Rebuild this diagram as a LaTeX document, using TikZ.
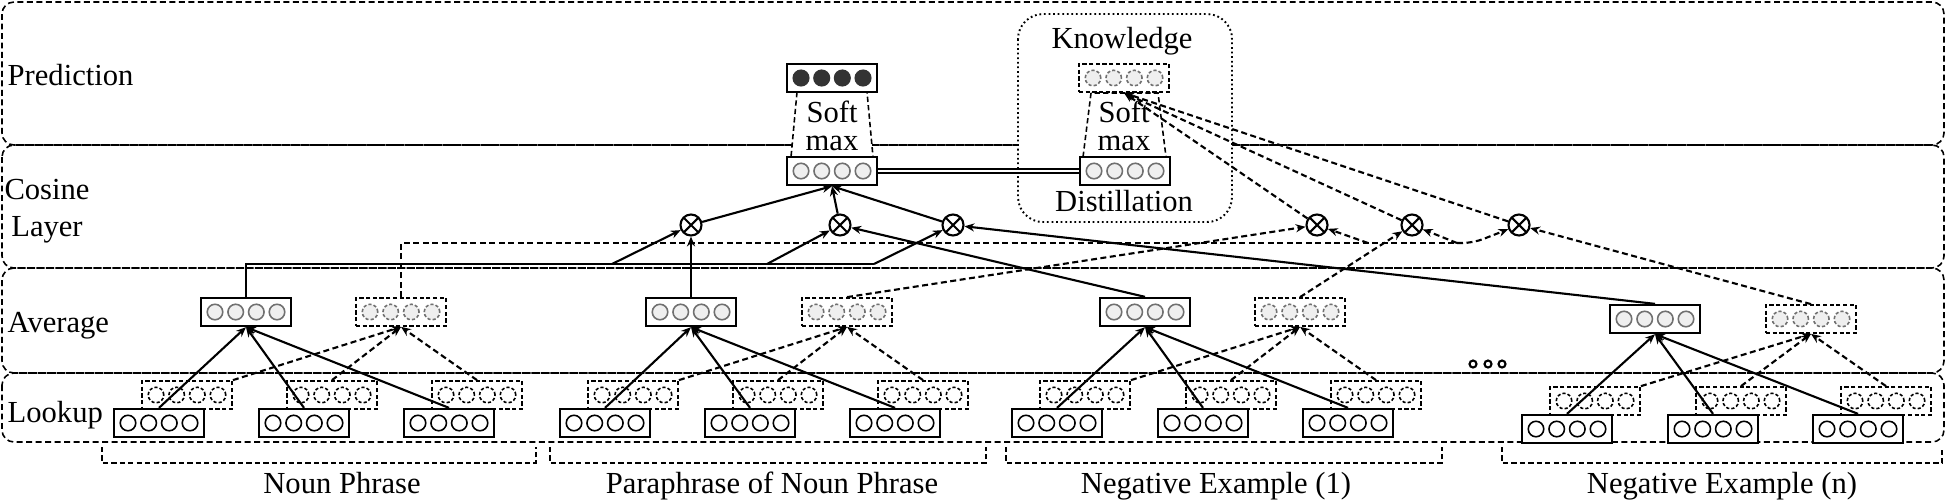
\documentclass[tikz,border=0pt]{standalone}
\usepackage{fontspec}
\setmainfont{Liberation Serif}
\usetikzlibrary{arrows.meta}

\definecolor{dotgray}{HTML}{707070}
\definecolor{dotfill}{HTML}{EFEFEF}
\definecolor{darkdot}{HTML}{333333}

% box with four units inside: name, x, y, box style, unit style
\newcommand{\vecbox}[5]{%
  \node[#4] (#1) at (#2,#3) {};
  \foreach \dx in {-31,-10.3,10.3,31}
    \node[#5] at ([xshift=\dx*0.01cm]#1.center) {};
}

\begin{document}
\begin{tikzpicture}[x=0.01cm, y=-0.01cm, font=\fontsize{8.7}{9}\selectfont,
  layerbox/.style={draw, dash pattern=on 1.7pt off 1pt, line width=0.45pt, rounded corners=0.12cm},
  kbox/.style={draw, fill=white, dash pattern=on 0.5pt off 0.8pt, line width=0.55pt, rounded corners=0.25cm},
  soft/.style={draw, fill=white, dash pattern=on 1.5pt off 0.9pt, line width=0.45pt},
  sbox/.style={draw, fill=white, line width=0.65pt, minimum width=0.9cm, minimum height=0.28cm, inner sep=0pt},
  dbox/.style={sbox, dash pattern=on 1.2pt off 0.7pt, line width=0.5pt},
  wdot/.style={circle, draw, fill=white, line width=0.45pt, minimum size=0.155cm, inner sep=0pt},
  gdot/.style={wdot, draw=dotgray, fill=dotfill},
  ddot/.style={gdot, dash pattern=on 0.9pt off 0.6pt},
  ldot/.style={wdot, dash pattern=on 0.9pt off 0.6pt},
  kdot/.style={wdot, draw=darkdot, fill=darkdot},
  mult/.style={circle, draw, fill=white, line width=0.6pt, minimum size=0.21cm, inner sep=0pt,
    path picture={\draw[line width=0.6pt] (path picture bounding box.north west) -- (path picture bounding box.south east)
      (path picture bounding box.north east) -- (path picture bounding box.south west);}},
  arr/.style={-{Stealth[length=2.8pt,width=2.3pt]}, line width=0.6pt},
  darr/.style={arr, dash pattern=on 1.7pt off 1pt},
  dline/.style={line width=0.6pt, dash pattern=on 1.7pt off 1pt},
  brack/.style={line width=0.45pt, dash pattern=on 1.5pt off 0.9pt},
  lbl/.style={anchor=base west, inner sep=0pt}]
\useasboundingbox (0,0) rectangle (1946,502);

% layers
\draw[layerbox] (2,2) rectangle (1944,145);
\draw[layerbox] (2,145) rectangle (1944,268);
\draw[layerbox] (2,268) rectangle (1944,373);
\draw[layerbox] (2,373) rectangle (1944,442);
\node[lbl] (lpred) at (7,85) {Prediction};
\node[align=center, inner sep=0pt, font=\fontsize{8.7}{10.5}\selectfont] (lcos) at (47,211) {Cosine\\Layer};
\node[lbl] (lavg) at (7,332) {Average};
\node[lbl] (llook) at (7,422) {Lookup};

% knowledge distillation
\draw[kbox] (1018,14) rectangle (1232,222);
\node[anchor=base, inner sep=0pt] (know) at (1122,48) {Knowledge};
\node[anchor=base, inner sep=0pt] (dist) at (1124,211) {Distillation};

\draw[soft] (797,92) -- (791,157) -- (873,157) -- (867,92) -- cycle;
\draw[soft] (1091,93) -- (1083,157) -- (1166,157) -- (1158,93) -- cycle;
\node[align=center, inner sep=0pt, font=\fontsize{8.7}{8}\selectfont] (sm1) at (832,126) {Soft\\max};
\node[align=center, inner sep=0pt, font=\fontsize{8.7}{8}\selectfont] (sm2) at (1124,126) {Soft\\max};

\vecbox{pred}{832}{78}{sbox}{kdot}
\vecbox{cos}{832}{171}{sbox}{gdot}
\vecbox{kd}{1124}{78}{dbox}{ddot}
\vecbox{kc}{1125}{171}{sbox}{gdot}

% noun phrase
\vecbox{u11}{187}{395}{dbox}{ldot}
\vecbox{u12}{332}{395}{dbox}{ldot}
\vecbox{u13}{477}{395}{dbox}{ldot}
\vecbox{w11}{159}{423}{sbox}{wdot}
\vecbox{w12}{304}{423}{sbox}{wdot}
\vecbox{w13}{449}{423}{sbox}{wdot}
\vecbox{a1}{246}{312}{sbox}{gdot}
\vecbox{b1}{401}{312}{dbox}{ddot}

% paraphrase
\vecbox{u21}{633}{395}{dbox}{ldot}
\vecbox{u22}{778}{395}{dbox}{ldot}
\vecbox{u23}{923}{395}{dbox}{ldot}
\vecbox{w21}{605}{423}{sbox}{wdot}
\vecbox{w22}{750}{423}{sbox}{wdot}
\vecbox{w23}{895}{423}{sbox}{wdot}
\vecbox{a2}{691}{312}{sbox}{gdot}
\vecbox{b2}{847}{312}{dbox}{ddot}

% negative example 1
\vecbox{u31}{1085}{395}{dbox}{ldot}
\vecbox{u32}{1231}{395}{dbox}{ldot}
\vecbox{u33}{1376}{395}{dbox}{ldot}
\vecbox{w31}{1057}{423}{sbox}{wdot}
\vecbox{w32}{1203}{423}{sbox}{wdot}
\vecbox{w33}{1348}{423}{sbox}{wdot}
\vecbox{a3}{1145}{312}{sbox}{gdot}
\vecbox{b3}{1300}{312}{dbox}{ddot}

% negative example n
\vecbox{u41}{1595}{401}{dbox}{ldot}
\vecbox{u42}{1741}{401}{dbox}{ldot}
\vecbox{u43}{1886}{401}{dbox}{ldot}
\vecbox{w41}{1567}{429}{sbox}{wdot}
\vecbox{w42}{1713}{429}{sbox}{wdot}
\vecbox{w43}{1858}{429}{sbox}{wdot}
\vecbox{a4}{1655}{319}{sbox}{gdot}
\vecbox{b4}{1811}{319}{dbox}{ddot}

\draw[line width=0.6pt] (1473,364) circle (0.035cm) (1488,364) circle (0.035cm) (1502,364) circle (0.035cm);

\path (w11.north) edge[arr] (a1.south) (w12.north) edge[arr] (a1.south) (w13.north) edge[arr] (a1.south)
      (u11.north east) edge[darr] (b1.south) (u12.north) edge[darr] (b1.south) (u13.north) edge[darr] (b1.south);
\path (w21.north) edge[arr] (a2.south) (w22.north) edge[arr] (a2.south) (w23.north) edge[arr] (a2.south)
      (u21.north east) edge[darr] (b2.south) (u22.north) edge[darr] (b2.south) (u23.north) edge[darr] (b2.south);
\path (w31.north) edge[arr] (a3.south) (w32.north) edge[arr] (a3.south) (w33.north) edge[arr] (a3.south)
      (u31.north east) edge[darr] (b3.south) (u32.north) edge[darr] (b3.south) (u33.north) edge[darr] (b3.south);
\path (w41.north) edge[arr] (a4.south) (w42.north) edge[arr] (a4.south) (w43.north) edge[arr] (a4.south)
      (u41.north east) edge[darr] (b4.south) (u42.north) edge[darr] (b4.south) (u43.north) edge[darr] (b4.south);

% cosine layer
\node[mult] (c1) at (691,225) {};
\node[mult] (c2) at (840,225) {};
\node[mult] (c3) at (953,225) {};
\node[mult] (c4) at (1317,225) {};
\node[mult] (c5) at (1412,225) {};
\node[mult] (c6) at (1519,225) {};
\coordinate (j1) at (612,264);
\coordinate (j2) at (767,264);
\coordinate (j3) at (874,264);
\coordinate (k1) at (1368,243);
\coordinate (k2) at (1457,243);
\coordinate (k3) at (1473,243);

\draw[line width=0.6pt] (a1.north) |- (j3);
\path (j1) edge[arr] (c1) (j2) edge[arr] (c2) (j3) edge[arr] (c3);
\draw[dline] (b1.north) |- (k2);
\draw[darr, rounded corners=3pt] (k2) -- (k3) -- (c6);
\path (k1) edge[darr] (c4) (k2) edge[darr] (c5);
\path (a2.north) edge[arr] (c1) (a3.north) edge[arr] (c2) (a4.north) edge[arr] (c3);
\path (b2.north) edge[darr] (c4) (b3.north) edge[darr] (c5) (b4.north) edge[darr] (c6);
\path (c1) edge[arr] (cos.south) (c2) edge[arr] (cos.south) (c3) edge[arr] (cos.south);
\path (c4) edge[darr] (kd.south) (c5) edge[darr] (kd.south) (c6) edge[darr] (kd.south);
\draw[double, double distance=0.7pt, line width=0.4pt] (cos.east) -- (kc.west);

% groups
\draw[brack] (102,447) |- (536,463) -- (536,447);
\draw[brack] (550,447) |- (986,463) -- (986,447);
\draw[brack] (1006,447) |- (1442,463) -- (1442,447);
\draw[brack] (1502,447) |- (1942,463) -- (1942,447);
\node[anchor=base] (np) at (342,493) {Noun Phrase};
\node[anchor=base] (pp) at (772,493) {Paraphrase of Noun Phrase};
\node[anchor=base] (ne1) at (1216,493) {Negative Example (1)};
\node[anchor=base] (nen) at (1722,493) {Negative Example (n)};
\end{tikzpicture}
\end{document}
